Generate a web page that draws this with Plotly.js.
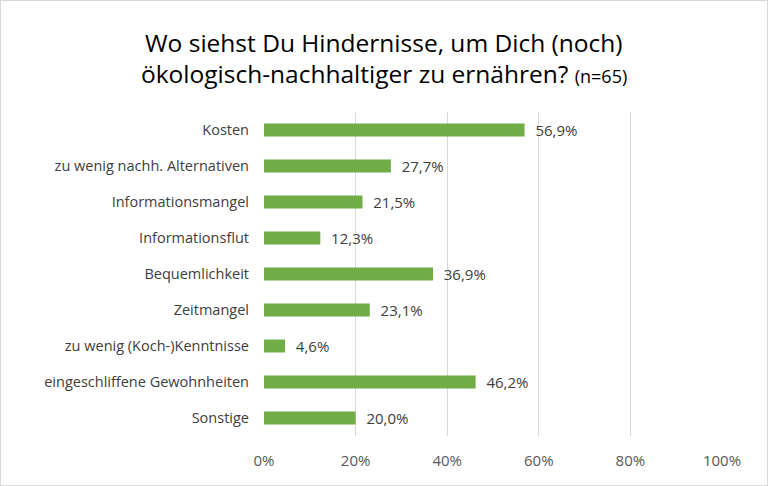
<!DOCTYPE html>
<html><head><meta charset="utf-8">
<script src="https://cdn.plot.ly/plotly-3.0.1.min.js"></script>
<style>html,body{margin:0;padding:0;background:#fff}#c{width:766px;height:484px;border:1px solid #d9d9d9}</style>
</head><body><div id="c"></div>
<script>
const categories = ["Kosten","zu wenig nachh. Alternativen","Informationsmangel","Informationsflut","Bequemlichkeit","Zeitmangel","zu wenig (Koch-)Kenntnisse","eingeschliffene Gewohnheiten","Sonstige"];
const values = [56.9,27.7,21.5,12.3,36.9,23.1,4.6,46.2,20.0];
const tickVals = [0,20,40,60,80,100];
const tickText = ["0%","20%","40%","60%","80%","100%"];
const labels = values.map(v => "  " + v.toFixed(1).replace(".", ",") + "%");
const fontFam = "Open Sans, sans-serif";
const ML = 263, MR = 45, MT = 111, MB = 49, W = 766, H = 484;
const pw = W - ML - MR, ph = H - MT - MB;
const cx = (383 - ML) / pw;
Plotly.newPlot("c", [{
  type: "bar", orientation: "h", y: categories, x: values,
  marker: {color: "#70ad47"}, width: 0.36,
  text: labels, textposition: "outside", cliponaxis: false, constraintext: "none",
  textfont: {family: fontFam, size: 15, color: "#404040"},
  hoverinfo: "none"
}], {
  width: W, height: H,
  margin: {l: ML, r: MR, t: MT, b: MB},
  paper_bgcolor: "#fff", plot_bgcolor: "#fff",
  showlegend: false,
  annotations: [
    {text: "Wo siehst Du Hindernisse, um Dich (noch)", xref: "paper", yref: "paper", x: cx, xanchor: "center",
     y: 1 + (MT - 42) / ph, yanchor: "middle", showarrow: false,
     font: {family: fontFam, size: 24.5, color: "#000"}},
    {text: "ökologisch-nachhaltiger zu ernähren? <span style='font-size:18px'>(n=65)</span>", xref: "paper", yref: "paper", x: cx, xanchor: "center",
     y: 1 + (MT - 73) / ph, yanchor: "middle", showarrow: false,
     font: {family: fontFam, size: 24.5, color: "#000"}}
  ],
  xaxis: {range: [0, 100], tickvals: tickVals, ticktext: tickText, showgrid: true, gridcolor: "#d9d9d9", zeroline: false,
    showline: false, tickfont: {family: fontFam, size: 15, color: "#595959"}, ticks: "", ticklabelstandoff: 14, fixedrange: true},
  yaxis: {autorange: "reversed", showgrid: false, showline: false, ticks: "", ticklabelstandoff: 14,
    tickfont: {family: fontFam, size: 14.5, color: "#404040"}, fixedrange: true}
}, {displayModeBar: false, staticPlot: true});
</script></body></html>
